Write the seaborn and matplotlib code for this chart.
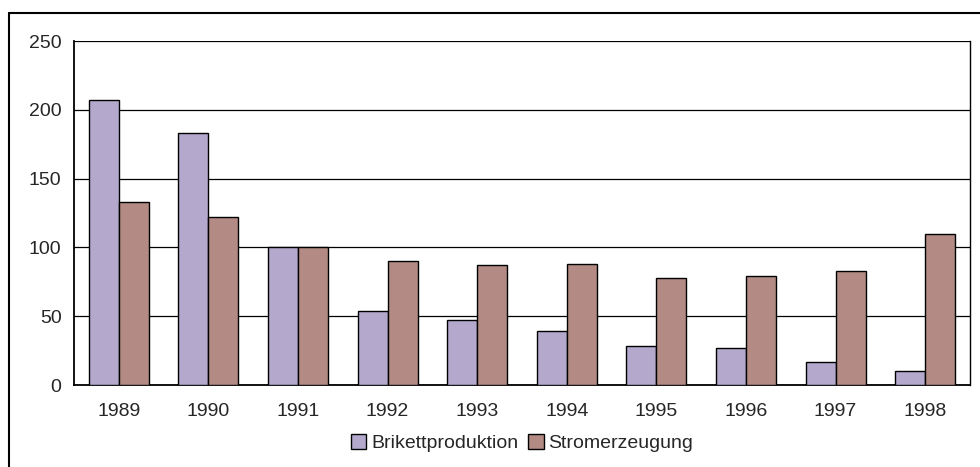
import matplotlib
matplotlib.use("Agg")
import matplotlib.pyplot as plt
import pandas as pd
import seaborn as sns
from matplotlib.lines import Line2D
from matplotlib.patches import Patch

years = ["1989", "1990", "1991", "1992", "1993", "1994", "1995", "1996", "1997", "1998"]
brikett = [207, 183, 100, 54, 47, 39, 28, 27, 17, 10]
strom = [133, 122, 100, 90, 87, 88, 78, 79, 83, 110]
series_names = ["Brikettproduktion", "Stromerzeugung"]
colors = ["#B4A8CD", "#B38A84"]

df = pd.DataFrame({
    "Jahr": years * 2,
    "Wert": brikett + strom,
    "Reihe": [series_names[0]] * len(years) + [series_names[1]] * len(years),
})

sns.set_style("white")
plt.rcParams["font.family"] = ["Liberation Sans", "DejaVu Sans"]

fig = plt.figure(figsize=(9.8, 4.67), dpi=100)
ax = fig.add_axes([74 / 980, 1 - 385 / 467, (970 - 74) / 980, (385 - 41) / 467])

sns.barplot(data=df, x="Jahr", y="Wert", hue="Reihe", palette=colors,
            width=0.67, edgecolor="black", linewidth=1, saturation=1,
            ax=ax, legend=False, zorder=3)

ax.set_ylim(0, 250)
ax.set_xlim(-0.5, len(years) - 0.5)
ax.set_yticks([0, 50, 100, 150, 200, 250])
ax.yaxis.grid(True, color="black", linewidth=0.9)
ax.set_axisbelow(True)
ax.set_xlabel("")
ax.set_ylabel("")

# category separators as tick marks below the axis
ax.set_xticks([i + 0.5 for i in range(-1, len(years))], minor=True)
ax.tick_params(axis="x", which="minor", length=6, width=1, color="black", direction="out")
ax.tick_params(axis="x", which="major", length=0, labelsize=14, pad=13)
ax.tick_params(axis="y", length=6, width=1, color="black", direction="out", labelsize=14, pad=3)

for side in ["left", "bottom"]:
    ax.spines[side].set_color("black")
    ax.spines[side].set_linewidth(1.3)
ax.spines["right"].set_color("black")
ax.spines["right"].set_linewidth(1.0)
ax.spines["top"].set_visible(False)

# legend centred under the plot area
handles = [Patch(facecolor=c, edgecolor="black", linewidth=1) for c in colors]
fig.legend(handles, series_names, loc="center", bbox_to_anchor=(522 / 980, 1 - 443 / 467),
           ncol=2, frameon=False, fontsize=14, handlelength=0.8, handleheight=0.8,
           handletextpad=0.25, columnspacing=0.5)

# outer chart frame (top and left edge visible)
fig.add_artist(Line2D([9 / 980, 9 / 980], [0, 1 - 13 / 467], color="black", linewidth=1.5,
                      transform=fig.transFigure))
fig.add_artist(Line2D([9 / 980, 1], [1 - 13 / 467, 1 - 13 / 467], color="black", linewidth=1.5,
                      transform=fig.transFigure))

fig.savefig("out.png", dpi=100)
